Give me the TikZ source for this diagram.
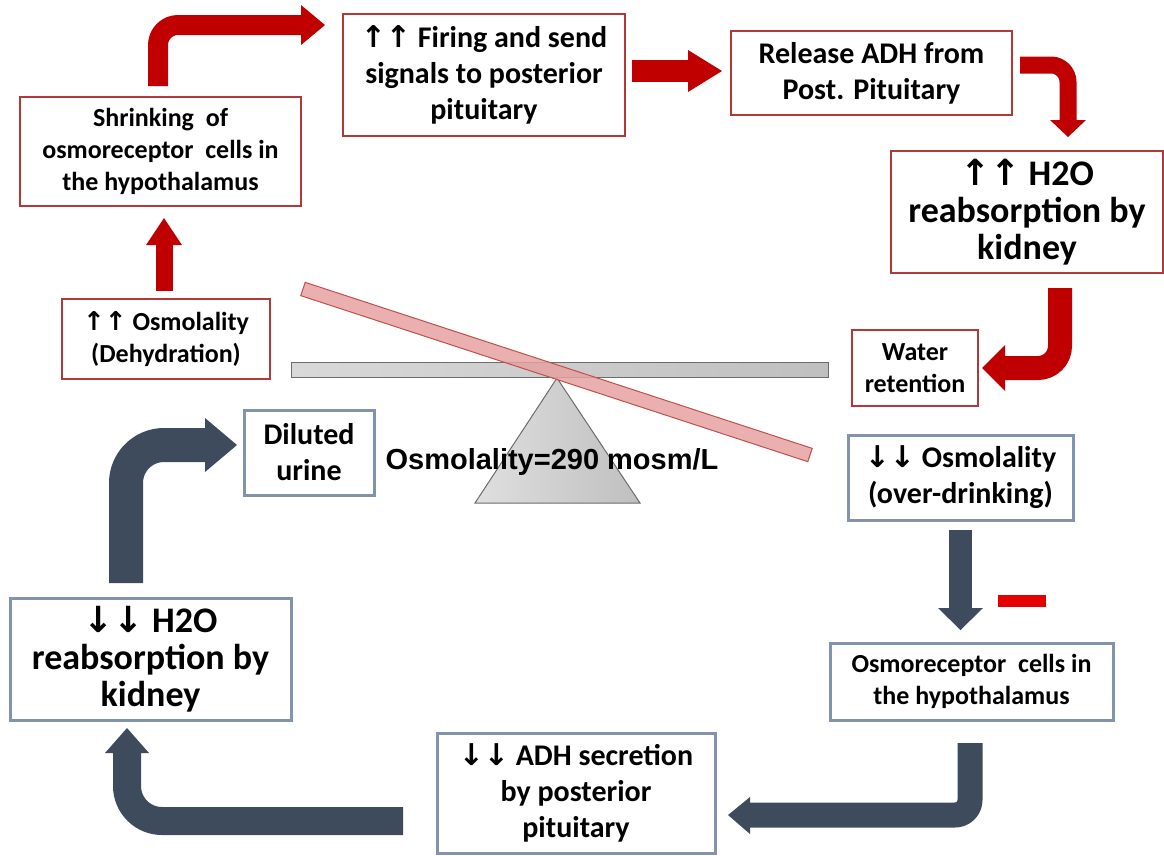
\documentclass[tikz,border=0pt]{standalone}
\usepackage{fontspec}
\setmainfont{Carlito}
\newfontfamily\arrfont{DejaVu Sans}
\newfontfamily\arialfont{Liberation Sans}
\newcommand{\myup}{{\arrfont\bfseries ↑↑}}
\newcommand{\mydn}{{\arrfont\bfseries ↓↓}}
\definecolor{boxred}{HTML}{B03A3A}
\definecolor{boxblue}{HTML}{8393AC}
\definecolor{arrred}{HTML}{C00000}
\definecolor{arrdark}{HTML}{3E4B5C}
\definecolor{barpink}{HTML}{E6A2A2}
\definecolor{barred}{HTML}{C0504D}
\tikzset{
  redbox/.style={draw=boxred, line width=1.3pt, fill=white, align=center, inner sep=0pt},
  bluebox/.style={draw=boxblue, line width=3pt, fill=white, align=center, inner sep=0pt},
  fa/.style={font=\bfseries\fontsize{26}{32}\selectfont},
  fb/.style={font=\bfseries\fontsize{30}{36}\selectfont},
  fc/.style={font=\bfseries\fontsize{36}{37}\selectfont},
  redshaft/.style={draw=arrred, line join=round},
  darkshaft/.style={draw=arrdark, line join=round},
}
\begin{document}
\begin{tikzpicture}[x=1pt,y=-1pt]
\useasboundingbox (0,0) rectangle (1164,855);
% seesaw
\draw[draw=gray!85!black, left color=gray!30, right color=gray!50, line width=1pt] (291,362) rectangle (828,377);
\draw[draw=gray!85!black, left color=gray!25, right color=gray!50, line width=1pt] (557,378) -- (475,503) -- (640,503) -- cycle;
\node[font=\arialfont\bfseries\fontsize{29}{32}\selectfont] (osmtext) at (552,462) {Osmolality=290 mosm/L};
\draw[draw=barred, fill=barpink, fill opacity=0.85, line width=1pt] (305.2,282.35) -- (812.2,448.35) -- (807.8,461.65) -- (300.8,295.65) -- cycle;
% boxes
\node[redbox, fa, minimum width=281pt, minimum height=109pt] (shrink) at (160.5,151.5) {Shrinking\ \ of\\osmoreceptor\ \ cells in\\the hypothalamus};
\node[redbox, fb, minimum width=282pt, minimum height=122pt] (fire) at (484,75) {\myup\ Firing and send\\signals to posterior\\pituitary};
\node[redbox, fb, minimum width=281pt, minimum height=84pt] (release) at (871.5,73) {Release ADH from\\Post. Pituitary};
\node[redbox, fc, minimum width=272pt, minimum height=122pt] (hup) at (1027,212) {\myup\ H2O\\reabsorption by\\kidney};
\node[redbox, fa, minimum width=208pt, minimum height=80pt] (osmup) at (166,339) {\myup\ Osmolality\\(Dehydration)};
\node[redbox, fa, minimum width=126pt, minimum height=76pt] (water) at (915,368) {Water\\retention};
\node[bluebox, fb, minimum width=130pt, minimum height=85pt] (dil) at (309,452.5) {Diluted\\urine};
\node[bluebox, fb, minimum width=225pt, minimum height=85pt] (osmdn) at (960.5,477.5) {\mydn\ Osmolality\\(over-drinking)};
\node[bluebox, fa, minimum width=283pt, minimum height=77pt] (osmrec) at (971.5,681.5) {Osmoreceptor\ \ cells in\\the hypothalamus};
\node[bluebox, fb, minimum width=278pt, minimum height=120pt] (adh) at (576,793) {\mydn\ ADH secretion\\by posterior\\pituitary};
\node[bluebox, fc, minimum width=281pt, minimum height=122pt] (hdn) at (150.5,659) {\mydn\ H2O\\reabsorption by\\kidney};
% red arrows
\draw[redshaft, line width=17pt] (164,291) -- (164,244);
\fill[arrred] (146,245) -- (182,245) -- (164,218) -- cycle;
\draw[redshaft, line width=20pt, rounded corners=20pt] (158,86) -- (158,25) -- (302,25);
\fill[arrred] (301,5) -- (301,45) -- (325,25) -- cycle;
\draw[redshaft, line width=22pt] (632,71) -- (689,71);
\fill[arrred] (688,50) -- (688,92) -- (722,71) -- cycle;
\draw[redshaft, line width=17pt, rounded corners=17pt] (1020,65) -- (1068,65) -- (1068,121);
\fill[arrred] (1050,120) -- (1086,120) -- (1068,137) -- cycle;
\draw[redshaft, line width=24pt, rounded corners=22pt] (1060,288) -- (1060,368) -- (1004,368);
\fill[arrred] (1005,345) -- (1005,391) -- (982,368) -- cycle;
% dark arrows
\draw[darkshaft, line width=34pt, rounded corners=38pt] (126,583) -- (126,445) -- (206,445);
\fill[arrdark] (205,418) -- (205,472) -- (237,445) -- cycle;
\draw[darkshaft, line width=23pt] (960.5,530) -- (960.5,609);
\fill[arrdark] (938,608) -- (983,608) -- (960.5,630) -- cycle;
\draw[darkshaft, line width=25pt, rounded corners=15pt] (970,743) -- (970,815) -- (749,815);
\fill[arrdark] (750,797) -- (750,834) -- (728,815) -- cycle;
\draw[darkshaft, line width=28pt, rounded corners=35pt] (403,821) -- (127,821) -- (127,752);
\fill[arrdark] (105,753) -- (149,753) -- (127,728) -- cycle;
% minus sign
\fill[red!90!black] (998,595) rectangle (1046,607);
\end{tikzpicture}
\end{document}
